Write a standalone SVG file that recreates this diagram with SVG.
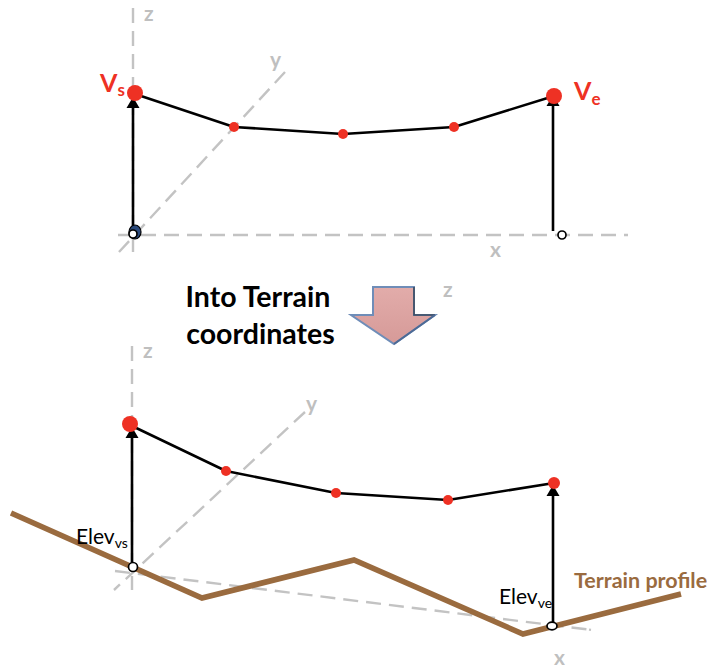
<svg xmlns="http://www.w3.org/2000/svg" width="707" height="668" viewBox="0 0 707 668">
<style>
text{font-family:Lato,"Liberation Sans",sans-serif}
.ax{fill:none;stroke:#c3c3c3;stroke-width:2.4;stroke-dasharray:15 8}
.axl{fill:#bfbfbf;font-weight:700;font-size:21px}
.line{fill:none;stroke:#000;stroke-width:2.6;stroke-linejoin:round}
.up{fill:none;stroke:#000;stroke-width:2.6}
.dot{fill:#ee3124}
.o{fill:#fff;stroke:#000;stroke-width:1.7}
.v{fill:#ee3124;font-weight:700}
.el{fill:#000}
</style>
<defs>
<linearGradient id="g" x1="0" y1="0" x2="0" y2="1"><stop offset="0" stop-color="#e2acaa"/><stop offset="1" stop-color="#d69a98"/></linearGradient>
</defs>
<rect width="707" height="668" fill="#fff"/>
<g id="connectors">
<path class="ax" d="M133 8V252"/>
<path class="ax" d="M285 72L119 252"/>
<path class="ax" d="M118 235H628"/>
<path class="ax" d="M132 346V590"/>
<path class="ax" d="M305 412L114 590"/>
<path class="ax" d="M115 571L592 630"/>
<path fill="none" stroke="#c3c3c3" stroke-width="2.400" d="M589 629.600L591 629.900"/>
<path fill="none" stroke="#9a6b3f" stroke-width="5.600" stroke-linejoin="miter" d="M11 513L202 598L354 560L523 634L681 594"/>
<path class="line" d="M135 94L234 127L343 134L454 127L554 96"/>
<path class="line" d="M130 425L226 471L336 493L448 500L554 483"/>
<path class="up" d="M133 230V108"/><path d="M133 97L139.500 108H126.500Z"/>
<path class="up" d="M553 231V106"/><path d="M553 95L559.500 106H546.500Z"/>
<path class="up" d="M132 565V438"/><path d="M132 427L138.500 438H125.500Z"/>
<path class="up" d="M553 622V496"/><path d="M553 485L559.500 496H546.500Z"/>
</g>
<g id="axis-labels">
<text class="axl" x="144" y="21">z</text>
<text class="axl" x="270" y="67">y</text>
<text class="axl" x="490" y="257">x</text>
<text class="axl" x="443" y="297">z</text>
<text class="axl" x="143" y="358">z</text>
<text class="axl" x="306" y="411">y</text>
<text class="axl" x="554" y="665">x</text>
</g>
<g id="node-vs"><circle class="dot" cx="135" cy="93" r="8"/><text class="v" x="100" y="92" font-size="25">V<tspan font-size="17" dy="4">s</tspan></text></g>
<g id="node-top-1"><circle class="dot" cx="234" cy="127" r="5"/></g>
<g id="node-top-2"><circle class="dot" cx="343" cy="134" r="5"/></g>
<g id="node-top-3"><circle class="dot" cx="454" cy="127" r="5"/></g>
<g id="node-ve"><circle class="dot" cx="554" cy="96" r="8"/><text class="v" x="574" y="100" font-size="25">V<tspan font-size="17" dy="5">e</tspan></text></g>
<g id="node-origin"><ellipse cx="135" cy="232" rx="6" ry="7" fill="#2b4a7c" stroke="#000" stroke-width="1.2"/><circle class="o" cx="133" cy="234" r="4"/></g>
<g id="node-xe"><circle class="o" cx="562" cy="235" r="4"/></g>
<g id="title">
<text x="258" y="307" text-anchor="middle" font-size="28.500" font-weight="700" fill="#000">Into Terrain</text>
<text x="260.500" y="344" text-anchor="middle" font-size="28.500" font-weight="700" fill="#000">coordinates</text>
<path d="M373 287H414V315H435L394 344L351 315H373Z" fill="url(#g)" stroke="#6f8db8" stroke-width="2"/>
<path d="M414 287V315H435" fill="none" stroke="#3d4a5e" stroke-width="1.600"/>
<path d="M435 315L394 344" fill="none" stroke="#4d6a95" stroke-width="2"/>
</g>
<g id="node-b-vs"><circle class="dot" cx="130" cy="424" r="8"/></g>
<g id="node-b-1"><circle class="dot" cx="226" cy="471" r="5"/></g>
<g id="node-b-2"><circle class="dot" cx="336" cy="493" r="5"/></g>
<g id="node-b-3"><circle class="dot" cx="448" cy="500" r="5"/></g>
<g id="node-b-ve"><circle class="dot" cx="554" cy="483" r="6"/></g>
<g id="node-elev-vs"><circle class="o" cx="133" cy="567" r="4.500"/><text class="el" x="76" y="544" font-size="21">Elev<tspan font-size="14" dy="4">vs</tspan></text></g>
<g id="node-elev-ve"><ellipse class="o" cx="552" cy="626" rx="5" ry="3.800"/><text class="el" x="499" y="604" font-size="21">Elev<tspan font-size="14" dy="4">ve</tspan></text></g>
<g id="terrain-label"><text x="574" y="588" font-size="21.500" font-weight="700" fill="#9a6b3f">Terrain profile</text></g>
</svg>
